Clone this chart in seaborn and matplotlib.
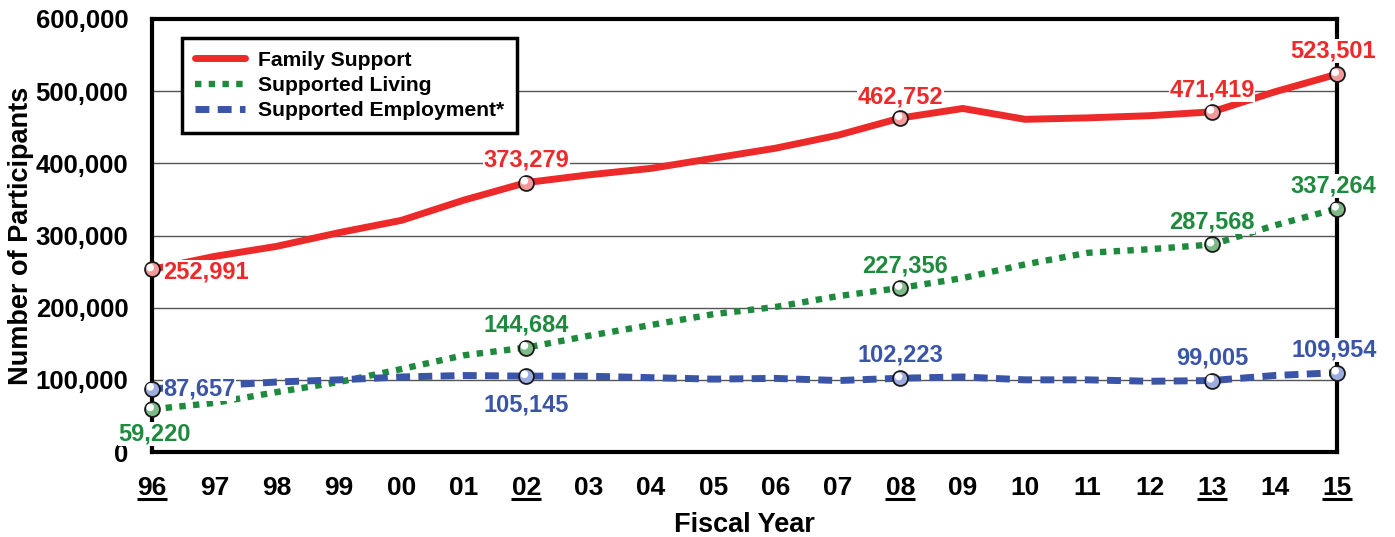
import matplotlib
matplotlib.use("Agg")
import matplotlib.pyplot as plt
from matplotlib.transforms import offset_copy
import seaborn as sns
import pandas as pd
import numpy as np

years = ["96", "97", "98", "99", "00", "01", "02", "03", "04", "05",
         "06", "07", "08", "09", "10", "11", "12", "13", "14", "15"]
family_support = [252991, 271000, 285000, 304000, 321000, 349000, 373279, 384000, 393000, 407000,
                  421000, 439000, 462752, 476000, 461000, 463000, 466000, 471419, 499000, 523501]
supported_living = [59220, 68000, 83000, 97000, 115000, 134000, 144684, 161000, 176000, 191000,
                    201000, 216000, 227356, 241000, 260000, 276000, 281000, 287568, 314000, 337264]
supported_employment = [87657, 92000, 97000, 100000, 104000, 106000, 105145, 105000, 103000, 101000,
                        102000, 99000, 102223, 104000, 100000, 100000, 98000, 99005, 106000, 109954]
highlight_years = ["96", "02", "08", "13", "15"]
series_names = ["Family Support", "Supported Living", "Supported Employment*"]
y_ticks = [0, 100000, 200000, 300000, 400000, 500000, 600000]

sns.set_theme(style="white")
plt.rcParams["font.family"] = ["Liberation Sans", "DejaVu Sans"]
plt.rcParams["font.weight"] = "bold"
plt.rcParams["text.color"] = "black"
plt.rcParams["axes.labelcolor"] = "black"

colors = {"Family Support": "#ec2a2a", "Supported Living": "#1e8a3e", "Supported Employment*": "#3a55a8"}
light = {"Family Support": "#f29a9a", "Supported Living": "#7dba88", "Supported Employment*": "#9dacdf"}
styles = {"Family Support": "-", "Supported Living": (0, (1.0, 1.15)), "Supported Employment*": (0, (2.0, 1.2))}
widths = {"Family Support": 5.0, "Supported Living": 4.6, "Supported Employment*": 5.0}

x = np.arange(len(years))
data = {"Family Support": family_support, "Supported Living": supported_living,
        "Supported Employment*": supported_employment}

fig = plt.figure(figsize=(13.95, 5.37), dpi=100)
ax = fig.add_axes([152 / 1395, 85 / 537, 1185 / 1395, 433 / 537])
hl_tr = offset_copy(ax.transData, fig=fig, x=-1.3, y=1.3, units="points")

for name in series_names:
    df = pd.DataFrame({"x": x, "y": data[name]})
    sns.lineplot(data=df, x="x", y="y", ax=ax, color=colors[name], linewidth=widths[name],
                 linestyle=styles[name], label=name, zorder=3)
    hi = df[df["x"].isin([years.index(h) for h in highlight_years])]
    ax.scatter(hi["x"], hi["y"], s=115, facecolor=light[name], edgecolor="#1a1a1a",
               linewidth=1.3, zorder=5, clip_on=False)
    ax.scatter(hi["x"], hi["y"], s=30, facecolor="white", edgecolor="none",
               zorder=6, clip_on=False, transform=hl_tr)

ax.set_xlim(0, len(years) - 1)
ax.set_ylim(0, 600000)
ax.set_yticks(y_ticks)
ax.set_yticklabels([f"{v:,}" for v in y_ticks], fontsize=18.5, fontweight="bold")
ax.set_xticks(x)
ax.set_xticklabels(years, fontsize=19, fontweight="bold")
ax.tick_params(axis="x", direction="in", length=13, width=1, color="#555555", pad=17,
               labelcolor="black")
ax.tick_params(axis="y", direction="in", length=10, width=1, color="#333333", pad=17,
               labelcolor="black")
for yv in y_ticks[1:-1]:
    ax.axhline(yv, color="#555555", linewidth=1.0, zorder=1)
for sp in ax.spines.values():
    sp.set_color("black")
    sp.set_linewidth(3)
    sp.set_visible(True)

ax.set_xlabel("Fiscal Year", fontsize=19.5, fontweight="bold", labelpad=9)
ax.set_ylabel("Number of Participants", fontsize=19.5, fontweight="bold")
ax.yaxis.set_label_coords(-118 / 1185, 0.5)

# underline highlighted year labels
for h in highlight_years:
    i = years.index(h)
    ax.plot([i - 0.24, i + 0.24], [-0.1085, -0.1085], transform=ax.get_xaxis_transform(),
            color="black", linewidth=2.2, clip_on=False, solid_capstyle="butt")

def lab(name, year, dx, dy, ha="center", va="center"):
    i = years.index(year)
    v = data[name][i]
    ax.annotate(f"{v:,}", (i, v), xytext=(dx, dy), textcoords="offset points",
                ha=ha, va=va, fontsize=17, fontweight="bold", color=colors[name], zorder=7,
                bbox=dict(facecolor="white", edgecolor="none", pad=0.3))

lab("Family Support", "96", 8, -1.5, ha="left")
lab("Family Support", "02", 0, 16)
lab("Family Support", "08", 0, 15.5)
lab("Family Support", "13", 0, 15.5)
lab("Family Support", "15", -3, 17)
lab("Supported Living", "96", 2, -17.5)
lab("Supported Living", "02", 0, 16.5)
lab("Supported Living", "08", 3, 15.5)
lab("Supported Living", "13", 0, 16)
lab("Supported Living", "15", -3, 16)
lab("Supported Employment*", "96", 8, 0, ha="left")
lab("Supported Employment*", "02", 0, -21)
lab("Supported Employment*", "08", 0, 17)
lab("Supported Employment*", "13", 0, 16.5)
lab("Supported Employment*", "15", -2, 16.5)

leg = ax.legend(loc="upper left", bbox_to_anchor=(30 / 1185, 1 - 19 / 433), borderaxespad=0,
                fontsize=15.2, frameon=True, fancybox=False, edgecolor="black",
                handlelength=2.4, borderpad=0.6, labelspacing=0.3, handletextpad=0.6)
leg.get_frame().set_linewidth(2.5)
leg.get_frame().set_alpha(1)
for t in leg.get_texts():
    t.set_fontweight("bold")
    t.set_color("black")
leg.set_zorder(10)

fig.savefig("out.png", dpi=100)
